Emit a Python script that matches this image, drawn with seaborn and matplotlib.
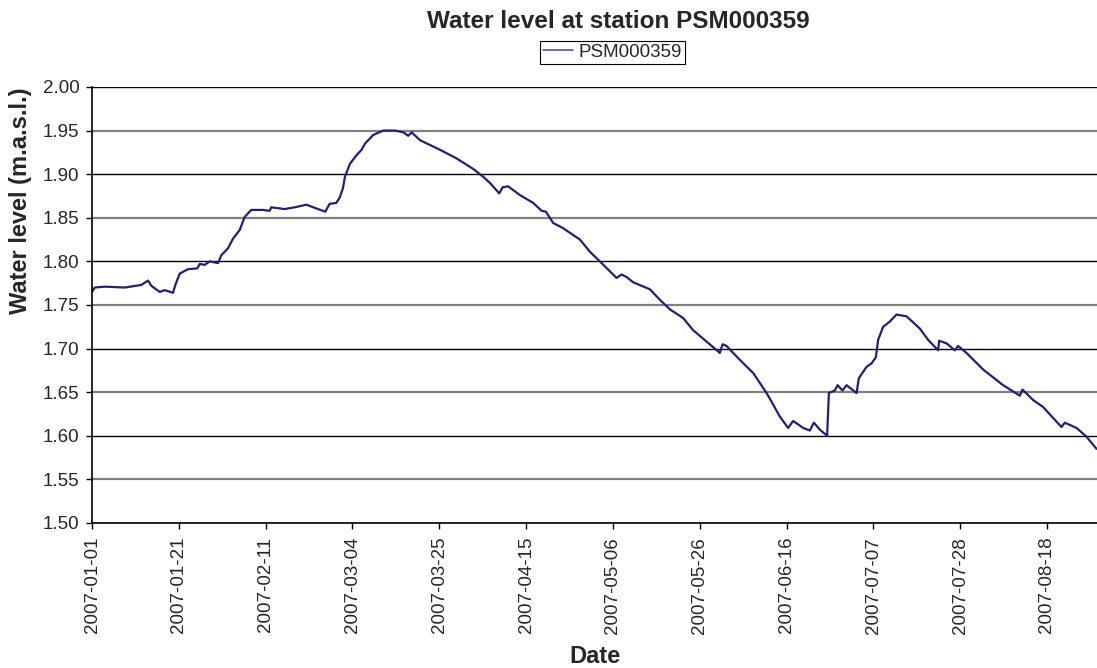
import matplotlib
matplotlib.use("Agg")
import matplotlib.pyplot as plt
import pandas as pd
import seaborn as sns

# days since 2007-01-01 and water level (m.a.s.l.)
days = [0.0, 0.65, 3.07, 7.91, 11.92, 13.54, 14.34, 16.37, 17.58, 19.59,
        20.15, 21.21, 23.22, 25.47, 26.05, 27.26, 28.46, 30.47, 31.27, 32.89,
        34.10, 35.72, 36.93, 38.52, 41.35, 42.97, 43.36, 46.60, 49.02, 51.83,
        54.66, 56.42, 57.48, 59.08, 59.90, 60.70, 61.18, 62.39, 64.01, 65.22,
        66.02, 68.03, 70.45, 73.28, 75.28, 76.49, 77.31, 79.32, 84.16, 88.20,
        92.21, 94.63, 96.25, 98.50, 99.32, 100.68, 103.51, 106.72, 108.75, 109.79,
        111.56, 113.98, 118.02, 120.44, 122.85, 126.89, 128.10, 129.31, 130.91, 134.94,
        137.36, 139.78, 143.00, 145.42, 148.66, 151.87, 152.53, 153.49, 156.71, 159.93,
        163.17, 164.38, 166.38, 168.39, 169.60, 172.02, 173.64, 174.61, 176.06, 177.82,
        178.24, 179.69, 180.34, 181.55, 182.52, 184.94, 185.49, 187.35, 188.56, 189.60,
        190.16, 191.37, 192.99, 193.78, 194.61, 197.02, 200.24, 202.25, 204.67, 204.91,
        206.70, 208.71, 209.50, 211.53, 215.55, 220.39, 224.43, 225.08, 227.64, 230.06,
        234.51, 235.31, 238.14, 240.56, 242.98]
level = [1.765, 1.770, 1.771, 1.770, 1.773, 1.778, 1.772, 1.765, 1.767, 1.764,
         1.773, 1.786, 1.791, 1.792, 1.797, 1.796, 1.800, 1.798, 1.807, 1.815,
         1.826, 1.836, 1.851, 1.859, 1.859, 1.858, 1.862, 1.860, 1.862, 1.865,
         1.860, 1.857, 1.866, 1.867, 1.873, 1.884, 1.897, 1.912, 1.922, 1.928,
         1.935, 1.945, 1.950, 1.950, 1.948, 1.944, 1.948, 1.939, 1.928, 1.918,
         1.906, 1.897, 1.890, 1.878, 1.885, 1.886, 1.876, 1.867, 1.858, 1.857,
         1.844, 1.838, 1.825, 1.811, 1.800, 1.781, 1.785, 1.782, 1.776, 1.768,
         1.756, 1.745, 1.735, 1.721, 1.708, 1.695, 1.705, 1.703, 1.687, 1.672,
         1.649, 1.639, 1.622, 1.609, 1.617, 1.609, 1.606, 1.615, 1.607, 1.600,
         1.649, 1.652, 1.658, 1.652, 1.658, 1.649, 1.666, 1.679, 1.683, 1.690,
         1.710, 1.725, 1.731, 1.735, 1.739, 1.737, 1.723, 1.710, 1.698, 1.709,
         1.706, 1.698, 1.703, 1.695, 1.676, 1.658, 1.646, 1.653, 1.641, 1.633,
         1.610, 1.615, 1.609, 1.599, 1.585]

xtick_days = [0, 21, 42, 63, 84, 105, 126, 147, 168, 189, 210, 231]
xtick_labels = ['2007-01-01', '2007-01-21', '2007-02-11', '2007-03-04',
                '2007-03-25', '2007-04-15', '2007-05-06', '2007-05-26',
                '2007-06-16', '2007-07-07', '2007-07-28', '2007-08-18']
yticks = [1.50, 1.55, 1.60, 1.65, 1.70, 1.75, 1.80, 1.85, 1.90, 1.95, 2.00]

df = pd.DataFrame({'day': days, 'level': level})

sns.set_style("white")
plt.rcParams['font.family'] = ['Liberation Sans', 'DejaVu Sans']

fig = plt.figure(figsize=(10.97, 6.68), dpi=100)
ax = fig.add_axes([0.0839, 0.2171, 0.9161, 0.6527])

sns.lineplot(data=df, x='day', y='level', ax=ax, color='#231f74',
             linewidth=1.6, estimator=None, label='PSM000359')

ax.set_xlim(0, 243.1)
ax.set_ylim(1.50, 2.00)
ax.set_yticks(yticks)
ax.set_yticklabels([f'{v:.2f}' for v in yticks], fontsize=13.5)
ax.set_xticks(xtick_days)
ax.set_xticklabels(xtick_labels, rotation=90, fontsize=13.5)
ax.tick_params(axis='both', direction='out', length=4, width=1, color='black',
               pad=5, left=True, bottom=True)
ax.tick_params(axis='x', pad=6)

# alternating black / grey horizontal gridlines as in the original
ax.yaxis.grid(True)
ax.xaxis.grid(False)
for i, t in enumerate(ax.yaxis.get_major_ticks()):
    if i % 2 == 1:
        t.gridline.set_color('#808080')
        t.gridline.set_linewidth(1.6)
    else:
        t.gridline.set_color('black')
        t.gridline.set_linewidth(1.0)
ax.set_axisbelow(True)

for side in ['top', 'right']:
    ax.spines[side].set_visible(False)
for side in ['left', 'bottom']:
    ax.spines[side].set_color('black')
    ax.spines[side].set_linewidth(1.2)

ax.set_xlabel('Date', fontsize=17, fontweight='bold', labelpad=8)
ax.set_ylabel('Water level (m.a.s.l.)', fontsize=17, fontweight='bold')
ax.yaxis.set_label_coords(-0.0598, 0.738)

fig.text(0.564, 0.958, 'Water level at station PSM000359', ha='center',
         va='baseline', fontsize=17.5, fontweight='bold')

leg = ax.legend(loc='upper center', bbox_to_anchor=(0.5584, 0.9386),
                bbox_transform=fig.transFigure, fontsize=13.5, frameon=True,
                fancybox=False, edgecolor='black', framealpha=1,
                borderpad=0.15, handlelength=1.6, handletextpad=0.3,
                borderaxespad=0)
leg.get_frame().set_linewidth(0.8)
for h in leg.get_lines():
    h.set_color('#5a4e9e')
    h.set_linewidth(1.2)

fig.savefig('out.png', dpi=100)
